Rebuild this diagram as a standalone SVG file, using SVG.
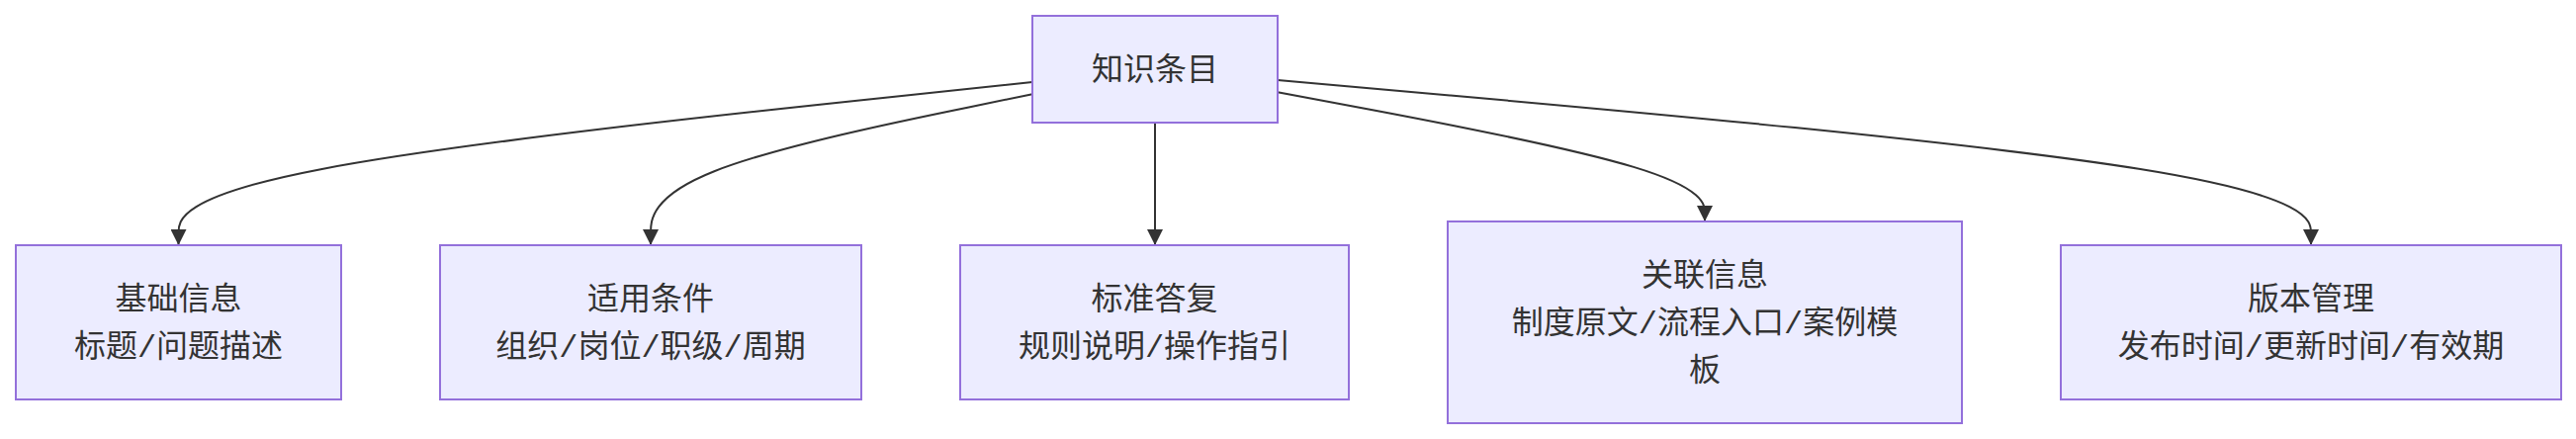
<svg xmlns="http://www.w3.org/2000/svg" width="2605" height="444" viewBox="0 0 2605 444">
<style>
.node rect{fill:#ECECFF;stroke:#9370DB;stroke-width:2}
.node text{font-family:"Noto Sans CJK SC","Noto Sans",sans-serif;font-size:32px;fill:#333;text-anchor:middle}
.node .s{font-family:"Liberation Mono",monospace}
.edge{fill:none;stroke:#333;stroke-width:2}
</style>
<defs>
<marker id="arrow" viewBox="0 0 10 10" refX="10" refY="5" markerUnits="userSpaceOnUse" markerWidth="16" markerHeight="16" orient="auto">
<path d="M0,0 L10,5 L0,10 z" fill="#333"/>
</marker>
</defs>
<g id="connectors">
<path class="edge" marker-end="url(#arrow)" d="M1044,83.1 L900.1,98.3 C756.2,113.4 468.3,143.7 324.4,171.2 C180.5,198.7 180.5,223.3 180.5,235.7 L180.5,248"/>
<path class="edge" marker-end="url(#arrow)" d="M1044,95.3 L979.7,108.4 C915.3,121.5 786.7,147.8 722.3,173.2 C658,198.7 658,223.3 658,235.7 L658,248"/>
<path class="edge" marker-end="url(#arrow)" d="M1168,124 L1168,248"/>
<path class="edge" marker-end="url(#arrow)" d="M1292,93.2 L1364,106.7 C1436,120.1 1580,147.1 1652,168.9 C1724,190.7 1724,207.3 1724,215.7 L1724,224"/>
<path class="edge" marker-end="url(#arrow)" d="M1292,81 L1466.2,96.5 C1640.3,112 1988.7,143 2162.8,170.8 C2337,198.7 2337,223.3 2337,235.7 L2337,248"/>
</g>
<g id="node-root" class="node">
<rect x="1044" y="16" width="248" height="108"/>
<text x="1168" y="81">知识条目</text>
</g>
<g id="node-basic" class="node">
<rect x="16" y="248" width="329" height="156"/>
<text x="180.5" y="313">基础信息</text>
<text x="180.5" y="361">标题<tspan class="s">/</tspan>问题描述</text>
</g>
<g id="node-condition" class="node">
<rect x="445" y="248" width="426" height="156"/>
<text x="658" y="313">适用条件</text>
<text x="658" y="361">组织<tspan class="s">/</tspan>岗位<tspan class="s">/</tspan>职级<tspan class="s">/</tspan>周期</text>
</g>
<g id="node-answer" class="node">
<rect x="971" y="248" width="393" height="156"/>
<text x="1167.5" y="313">标准答复</text>
<text x="1167.5" y="361">规则说明<tspan class="s">/</tspan>操作指引</text>
</g>
<g id="node-related" class="node">
<rect x="1464" y="224" width="520" height="204"/>
<text x="1724" y="289">关联信息</text>
<text x="1724" y="337">制度原文<tspan class="s">/</tspan>流程入口<tspan class="s">/</tspan>案例模</text>
<text x="1724" y="385">板</text>
</g>
<g id="node-version" class="node">
<rect x="2084" y="248" width="506" height="156"/>
<text x="2337" y="313">版本管理</text>
<text x="2337" y="361">发布时间<tspan class="s">/</tspan>更新时间<tspan class="s">/</tspan>有效期</text>
</g>
</svg>
